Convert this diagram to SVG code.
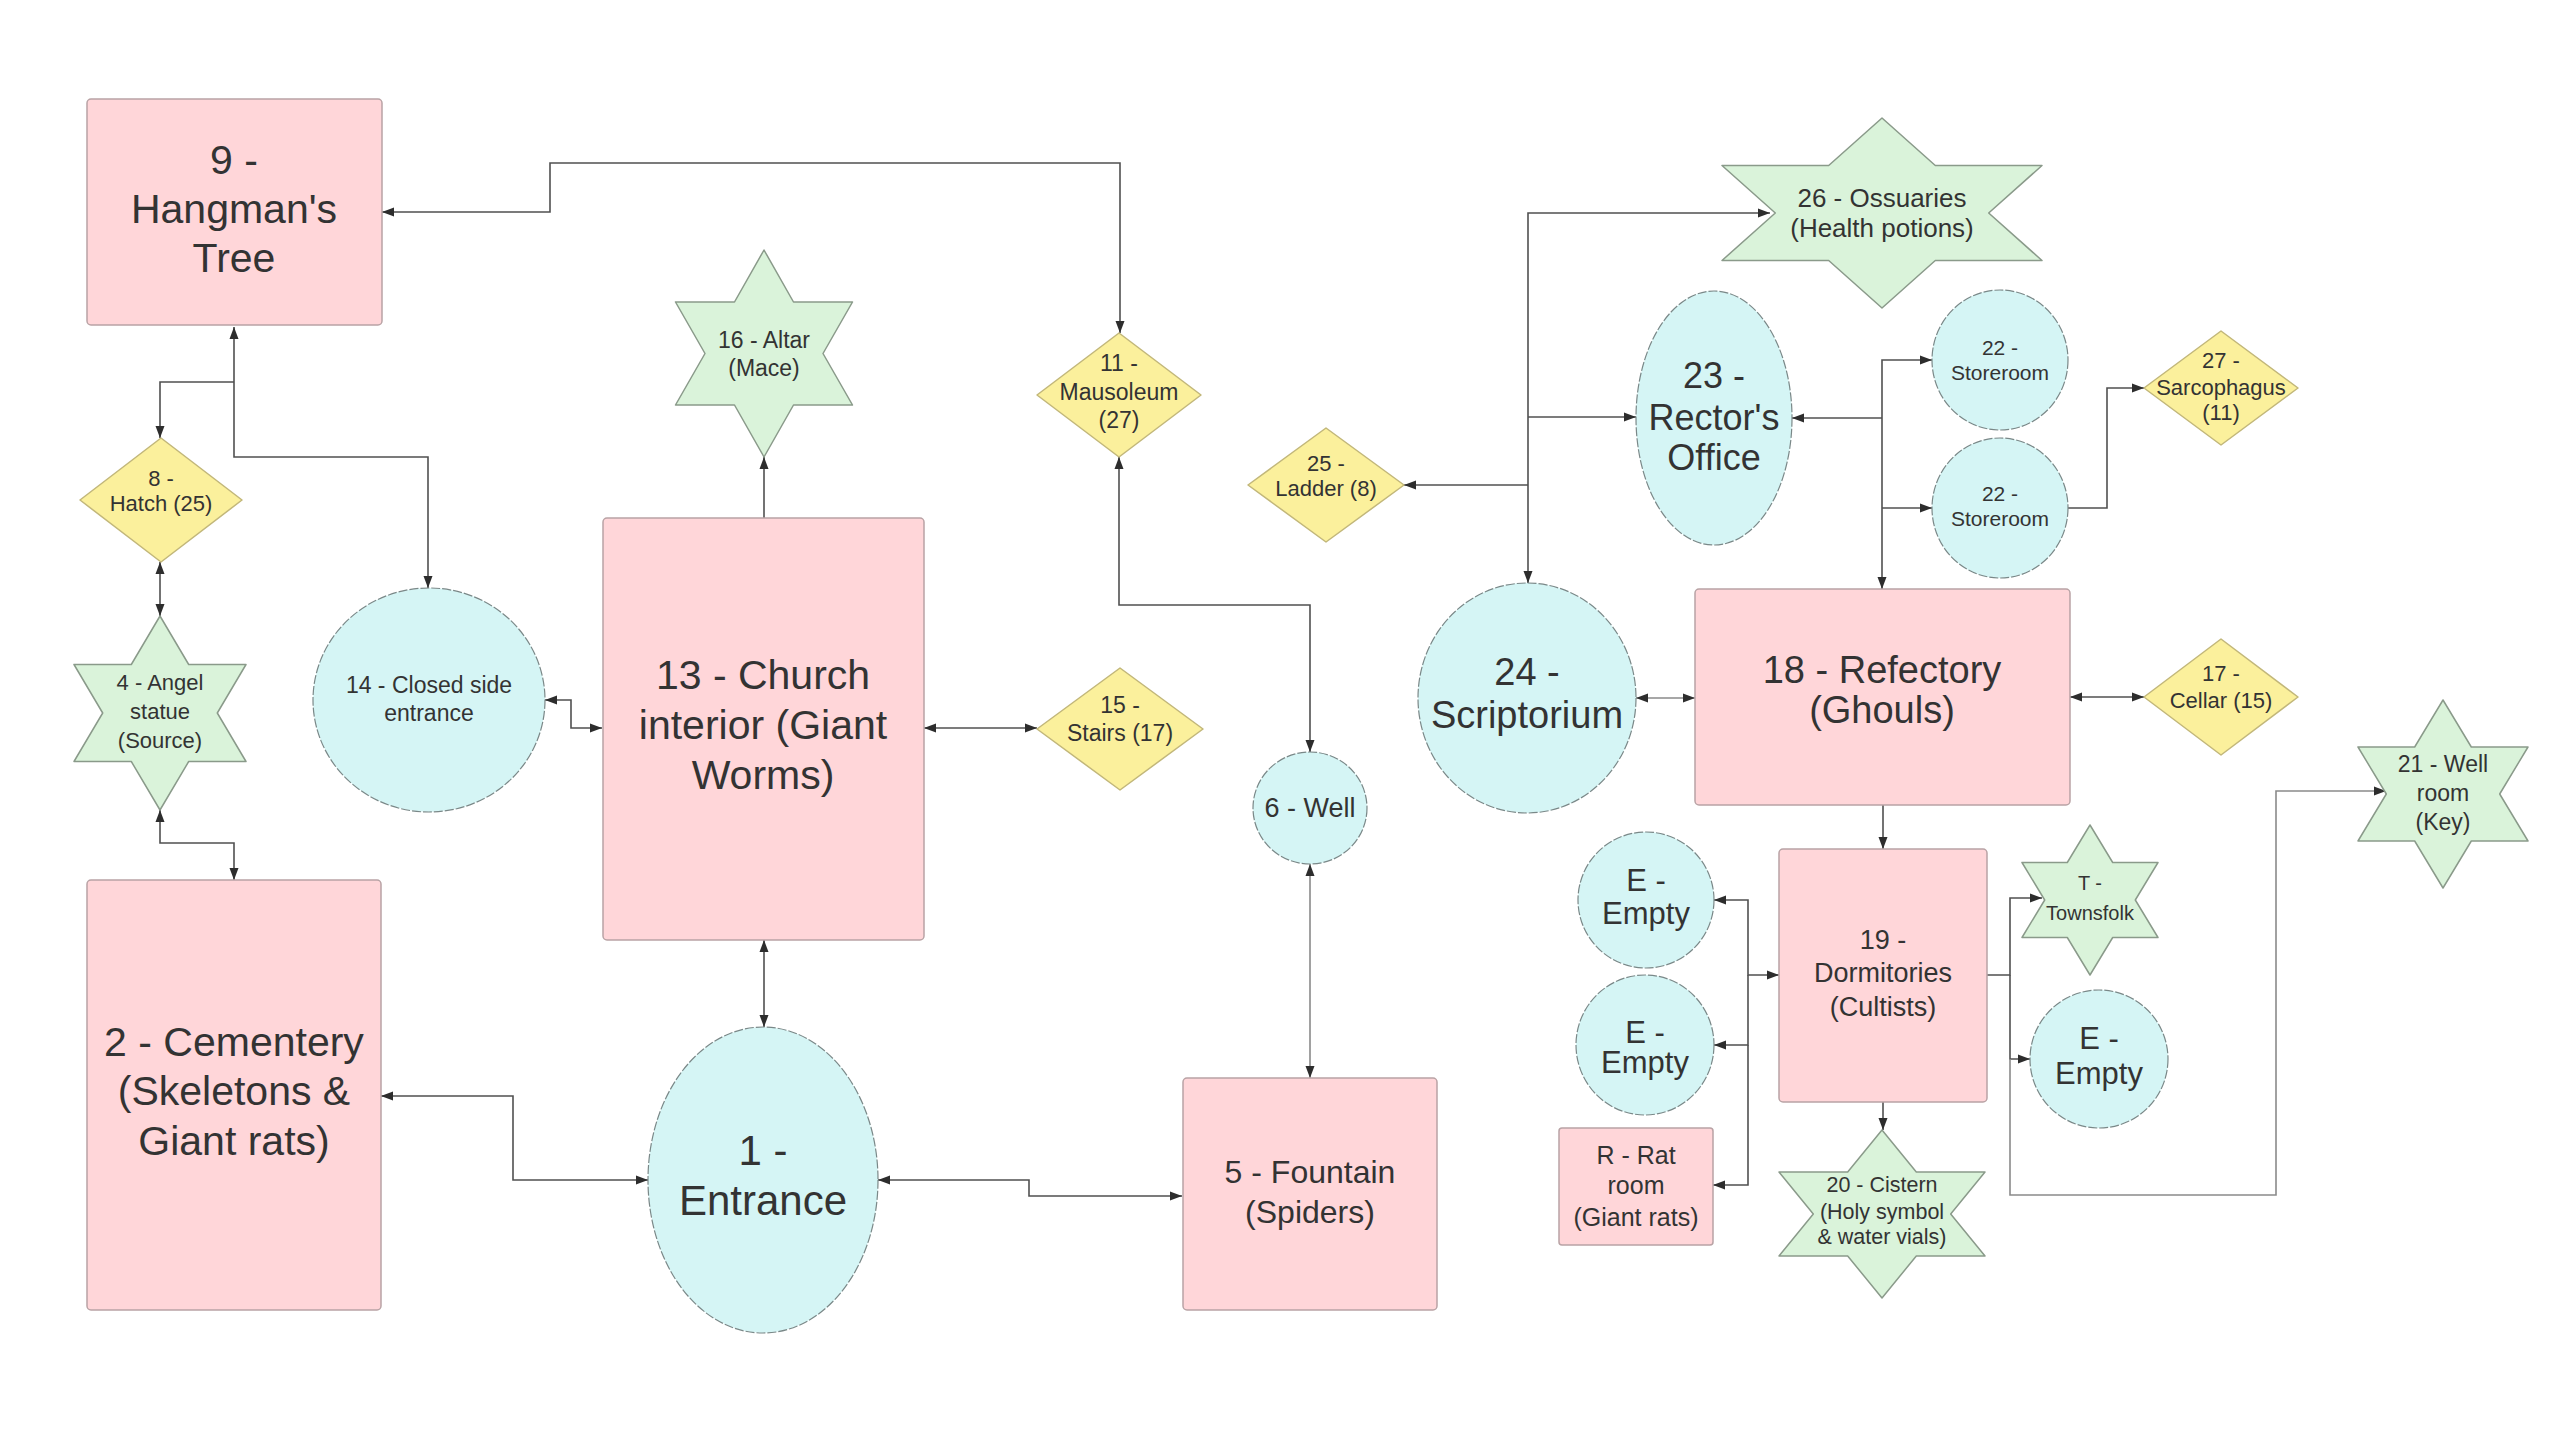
<svg xmlns="http://www.w3.org/2000/svg" width="2560" height="1440" viewBox="0 0 2560 1440">
<defs>
<style>
.rect{fill:#ffd6d9;stroke:#b9a3a5;stroke-width:1.5}
.circ{fill:#d5f5f5;stroke:#7a8888;stroke-width:1.2;stroke-dasharray:9 2}
.dia{fill:#fbf09c;stroke:#c2b77a;stroke-width:1.5;stroke-linejoin:round}
.star{fill:#daf3da;stroke:#8a9a8a;stroke-width:1.5;stroke-linejoin:round}
text{font-family:"Liberation Sans",Arial,sans-serif;fill:#333;text-anchor:middle;dominant-baseline:central}
.c{fill:none;stroke:#505050;stroke-width:1.6}
.c2{fill:none;stroke:#8a8a8a;stroke-width:1.6}
</style>
<marker id="a" viewBox="0 0 12 10" refX="12" refY="5" markerWidth="13" markerHeight="10" markerUnits="userSpaceOnUse" orient="auto-start-reverse">
<path d="M0,0.5 L12,5 L0,9.5 z" fill="#2d2d2d"/>
</marker>
</defs>
<rect width="2560" height="1440" fill="#ffffff"/>

<g id="connectors">
<path class="c" d="M382,212 H550 V163 H1120 V333" marker-start="url(#a)" marker-end="url(#a)"/>
<path class="c" d="M234,327 V457 H428 V588" marker-start="url(#a)" marker-end="url(#a)"/>
<path class="c" d="M234,382 H160 V438" marker-end="url(#a)"/>
<path class="c" d="M160,562 V616" marker-start="url(#a)" marker-end="url(#a)"/>
<path class="c" d="M160,810 V843 H234 V880" marker-start="url(#a)" marker-end="url(#a)"/>
<path class="c" d="M545,700 H571 V728 H602" marker-start="url(#a)" marker-end="url(#a)"/>
<path class="c" d="M764,518 V457" marker-end="url(#a)"/>
<path class="c" d="M924,728 H1037" marker-start="url(#a)" marker-end="url(#a)"/>
<path class="c" d="M764,940 V1027" marker-start="url(#a)" marker-end="url(#a)"/>
<path class="c" d="M381,1096 H513 V1180 H648" marker-start="url(#a)" marker-end="url(#a)"/>
<path class="c" d="M878,1180 H1029 V1196 H1182" marker-start="url(#a)" marker-end="url(#a)"/>
<path class="c" d="M1119,457 V605 H1310 V752" marker-start="url(#a)" marker-end="url(#a)"/>
<path class="c2" d="M1310,864 V1078" marker-start="url(#a)" marker-end="url(#a)"/>
<path class="c" d="M1528,583 V213 H1770" marker-start="url(#a)" marker-end="url(#a)"/>
<path class="c" d="M1528,417 H1636" marker-end="url(#a)"/>
<path class="c" d="M1528,485 H1404" marker-end="url(#a)"/>
<path class="c" d="M1882,589 V360 H1932" marker-start="url(#a)" marker-end="url(#a)"/>
<path class="c" d="M1882,418 H1792" marker-end="url(#a)"/>
<path class="c" d="M1882,508 H1932" marker-end="url(#a)"/>
<path class="c" d="M2068,508 H2107 V388 H2144" marker-end="url(#a)"/>
<path class="c2" d="M1636,698 H1695" marker-start="url(#a)" marker-end="url(#a)"/>
<path class="c" d="M2070,697 H2144" marker-start="url(#a)" marker-end="url(#a)"/>
<path class="c" d="M1883,805 V849" marker-end="url(#a)"/>
<path class="c" d="M1883,1102 V1130" marker-end="url(#a)"/>
<path class="c" d="M1779,975 H1748 V900 H1714" marker-start="url(#a)" marker-end="url(#a)"/>
<path class="c" d="M1748,975 V1045 H1714" marker-end="url(#a)"/>
<path class="c" d="M1748,1045 V1185 H1713" marker-end="url(#a)"/>
<path class="c" d="M1987,975 H2010 V898 H2042" marker-end="url(#a)"/>
<path class="c" d="M2010,975 V1059 H2030" marker-end="url(#a)"/>
<path class="c2" d="M2010,1059 V1195 H2276 V791 H2386" marker-end="url(#a)"/>
</g>

<g id="n9"><rect class="rect" x="87" y="99" width="295" height="226" rx="4"/>
<text x="234" y="160" font-size="41">9 -</text><text x="234" y="209" font-size="41">Hangman's</text><text x="234" y="258" font-size="41">Tree</text></g>

<g id="n13"><rect class="rect" x="603" y="518" width="321" height="422" rx="4"/>
<text x="763" y="675" font-size="41">13 - Church</text><text x="763" y="725" font-size="41">interior (Giant</text><text x="763" y="775" font-size="41">Worms)</text></g>

<g id="n2"><rect class="rect" x="87" y="880" width="294" height="430" rx="4"/>
<text x="234" y="1042" font-size="41">2 - Cementery</text><text x="234" y="1091" font-size="41">(Skeletons &amp;</text><text x="234" y="1141" font-size="41">Giant rats)</text></g>

<g id="n1"><ellipse class="circ" cx="763" cy="1180" rx="115" ry="153"/>
<text x="763" y="1150" font-size="42">1 -</text><text x="763" y="1200" font-size="42">Entrance</text></g>

<g id="n5"><rect class="rect" x="1183" y="1078" width="254" height="232" rx="4"/>
<text x="1310" y="1172" font-size="32">5 - Fountain</text><text x="1310" y="1212" font-size="32">(Spiders)</text></g>

<g id="n6"><ellipse class="circ" cx="1310" cy="808" rx="57" ry="56"/>
<text x="1310" y="808" font-size="27">6 - Well</text></g>

<g id="n14"><ellipse class="circ" cx="429" cy="700" rx="116" ry="112"/>
<text x="429" y="685" font-size="23">14 - Closed side</text><text x="429" y="713" font-size="23">entrance</text></g>

<g id="n16"><polygon class="star" points="764,250 793.5,302 852.5,302 823,353.5 852.5,405 793.5,405 764,457 734.5,405 675.5,405 705,353.5 675.5,302 734.5,302"/>
<text x="764" y="340" font-size="23">16 - Altar</text><text x="764" y="368" font-size="23">(Mace)</text></g>

<g id="n11"><polygon class="dia" points="1119,333 1201,395 1119,457 1037,395"/>
<text x="1119" y="363" font-size="23">11 -</text><text x="1119" y="392" font-size="23">Mausoleum</text><text x="1119" y="420" font-size="23">(27)</text></g>

<g id="n15"><polygon class="dia" points="1120,668 1203,729 1120,790 1037,729"/>
<text x="1120" y="705" font-size="23">15 -</text><text x="1120" y="733" font-size="23">Stairs (17)</text></g>

<g id="n8"><polygon class="dia" points="161,438 242,500 161,562 80,500"/>
<text x="161" y="478" font-size="22">8 -</text><text x="161" y="503" font-size="22">Hatch (25)</text></g>

<g id="n4"><polygon class="star" points="160,616 188.7,664.5 246,664.5 217.3,713 246,761.5 188.7,761.5 160,810 131.3,761.5 74,761.5 102.7,713 74,664.5 131.3,664.5"/>
<text x="160" y="682" font-size="22">4 - Angel</text><text x="160" y="711" font-size="22">statue</text><text x="160" y="740" font-size="22">(Source)</text></g>

<g id="n25"><polygon class="dia" points="1326,428 1404,485 1326,542 1248,485"/>
<text x="1326" y="463" font-size="22">25 -</text><text x="1326" y="488" font-size="22">Ladder (8)</text></g>

<g id="n26"><polygon class="star" points="1882,118 1935.3,165.5 2042,165.5 1988.7,213 2042,260.5 1935.3,260.5 1882,308 1828.7,260.5 1722,260.5 1775.3,213 1722,165.5 1828.7,165.5"/>
<text x="1882" y="198" font-size="26">26 - Ossuaries</text><text x="1882" y="228" font-size="26">(Health potions)</text></g>

<g id="n23"><ellipse class="circ" cx="1714" cy="418" rx="78" ry="127"/>
<text x="1714" y="375" font-size="36">23 -</text><text x="1714" y="417" font-size="36">Rector's</text><text x="1714" y="457" font-size="36">Office</text></g>

<g id="n22a"><ellipse class="circ" cx="2000" cy="360" rx="68" ry="70"/>
<text x="2000" y="347" font-size="21">22 -</text><text x="2000" y="372" font-size="21">Storeroom</text></g>

<g id="n22b"><ellipse class="circ" cx="2000" cy="508" rx="68" ry="70"/>
<text x="2000" y="493" font-size="21">22 -</text><text x="2000" y="518" font-size="21">Storeroom</text></g>

<g id="n27"><polygon class="dia" points="2221,331 2298,388 2221,445 2144,388"/>
<text x="2221" y="360" font-size="22">27 -</text><text x="2221" y="387" font-size="22">Sarcophagus</text><text x="2221" y="412" font-size="22">(11)</text></g>

<g id="n24"><ellipse class="circ" cx="1527" cy="698" rx="109" ry="115"/>
<text x="1527" y="672" font-size="38">24 -</text><text x="1527" y="715" font-size="38">Scriptorium</text></g>

<g id="n18"><rect class="rect" x="1695" y="589" width="375" height="216" rx="4"/>
<text x="1882" y="670" font-size="38">18 - Refectory</text><text x="1882" y="710" font-size="38">(Ghouls)</text></g>

<g id="n17"><polygon class="dia" points="2221,639 2298,697 2221,755 2144,697"/>
<text x="2221" y="673" font-size="22">17 -</text><text x="2221" y="700" font-size="22">Cellar (15)</text></g>

<g id="n21"><polygon class="star" points="2443,700 2471.3,747 2528,747 2499.7,794 2528,841 2471.3,841 2443,888 2414.7,841 2358,841 2386.3,794 2358,747 2414.7,747"/>
<text x="2443" y="764" font-size="23">21 - Well</text><text x="2443" y="793" font-size="23">room</text><text x="2443" y="822" font-size="23">(Key)</text></g>

<g id="n19"><rect class="rect" x="1779" y="849" width="208" height="253" rx="4"/>
<text x="1883" y="940" font-size="27">19 -</text><text x="1883" y="973" font-size="27">Dormitories</text><text x="1883" y="1007" font-size="27">(Cultists)</text></g>

<g id="nT"><polygon class="star" points="2090,825 2112.7,862.5 2158,862.5 2135.3,900 2158,937.5 2112.7,937.5 2090,975 2067.3,937.5 2022,937.5 2044.7,900 2022,862.5 2067.3,862.5"/>
<text x="2090" y="883" font-size="20">T -</text><text x="2090" y="913" font-size="20">Townsfolk</text></g>

<g id="nE1"><ellipse class="circ" cx="1646" cy="900" rx="68" ry="68"/>
<text x="1646" y="880" font-size="31">E -</text><text x="1646" y="913" font-size="31">Empty</text></g>

<g id="nE2"><ellipse class="circ" cx="1645" cy="1045" rx="69" ry="70"/>
<text x="1645" y="1032" font-size="31">E -</text><text x="1645" y="1062" font-size="31">Empty</text></g>

<g id="nE3"><ellipse class="circ" cx="2099" cy="1059" rx="69" ry="69"/>
<text x="2099" y="1038" font-size="31">E -</text><text x="2099" y="1073" font-size="31">Empty</text></g>

<g id="nR"><rect class="rect" x="1559" y="1128" width="154" height="117" rx="3"/>
<text x="1636" y="1155" font-size="25">R - Rat</text><text x="1636" y="1185" font-size="25">room</text><text x="1636" y="1217" font-size="25">(Giant rats)</text></g>

<g id="n20"><polygon class="star" points="1882,1130 1916.3,1172 1985,1172 1950.7,1214 1985,1256 1916.3,1256 1882,1298 1847.7,1256 1779,1256 1813.3,1214 1779,1172 1847.7,1172"/>
<text x="1882" y="1185" font-size="21.5">20 - Cistern</text><text x="1882" y="1212" font-size="21.5">(Holy symbol</text><text x="1882" y="1237" font-size="21.5">&amp; water vials)</text></g>
</svg>
